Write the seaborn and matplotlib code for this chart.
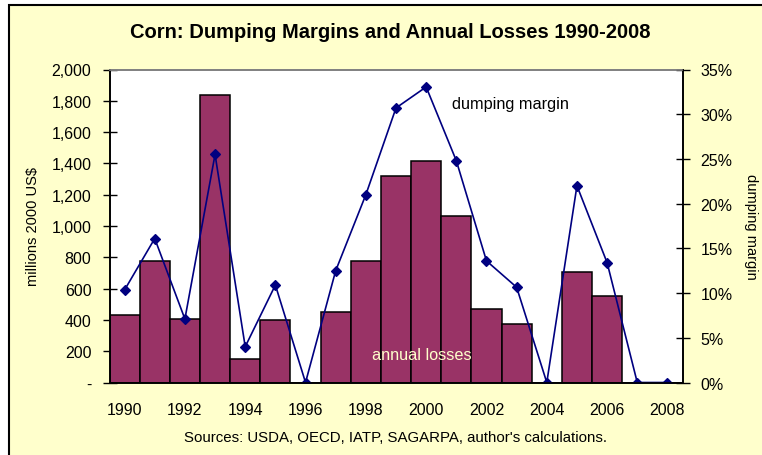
import matplotlib
matplotlib.use("Agg")
import matplotlib.pyplot as plt
import matplotlib.ticker as mticker
from matplotlib.patches import Rectangle
import numpy as np
import pandas as pd
import seaborn as sns

# data
years = [str(y) for y in range(1990, 2009)]
losses = [430, 775, 405, 1840, 150, 400, 0, 450, 775, 1320, 1415, 1065, 470, 375, 0, 705, 550, 0, 0]
margin = [10.35, 16.1, 7.1, 25.5, 4.0, 10.9, 0.0, 12.5, 21.0, 30.7, 33.05, 24.8, 13.6, 10.65, 0.0, 22.0, 13.4, 0.0, 0.0]
year_labels = [y if i % 2 == 0 else "" for i, y in enumerate(years)]

df = pd.DataFrame({"year": years, "losses": losses, "margin": margin})

sns.set_theme(style="white")
plt.rcParams["font.family"] = ["Liberation Sans", "DejaVu Sans"]

W, H = 762, 456
fig = plt.figure(figsize=(W / 100, H / 100), dpi=100, facecolor="white")

# yellow chart area with black frame
fig.patches.append(Rectangle((9 / W, -0.1), 1.2, 1 - 6 / H + 0.1, transform=fig.transFigure,
                             facecolor="#FFFFCC", edgecolor="black", linewidth=1.5, zorder=-5))

x0, x1 = 109.5, 682.5
y_top, y_bot = 70.5, 383.5
ax = fig.add_axes([x0 / W, 1 - y_bot / H, (x1 - x0) / W, (y_bot - y_top) / H])
ax.set_facecolor("white")

sns.barplot(data=df, x="year", y="losses", ax=ax, color="#993366", width=1.0,
            edgecolor="black", linewidth=1.1, saturation=1)
ax.set_xlim(-0.5, len(years) - 0.5)
ax.set_ylim(0, 2000)
ax.set_yticks(np.arange(0, 2001, 200))
ax.yaxis.set_major_formatter(mticker.FuncFormatter(lambda v, p: "-" if v == 0 else f"{int(v):,}"))
ax.set_xticks(range(len(years)))
ax.set_xticklabels(year_labels)
ax.set_xticks(np.arange(-0.5, len(years), 1), minor=True)
ax.tick_params(axis="x", which="major", length=0, pad=14, labelsize=11.5, colors="black")
ax.tick_params(axis="x", which="minor", length=5, width=1, direction="out", color="black")
ax.tick_params(axis="y", length=10, width=1, direction="inout", labelsize=11.5, pad=8, left=True, colors="black")
ax.set_xlabel("")
ax.set_ylabel("millions 2000 US$", fontsize=10.5, color="black", labelpad=8)

ax2 = ax.twinx()
sns.pointplot(data=df, x="year", y="margin", ax=ax2, color="#000080", markers="D",
              markersize=5, linewidth=1.2, errorbar=None)
ax2.set_xlim(-0.5, len(years) - 0.5)
ax2.set_ylim(0, 35)
ax2.set_yticks(np.arange(0, 36, 5))
ax2.yaxis.set_major_formatter(mticker.FuncFormatter(lambda v, p: f"{int(v)}%"))
ax2.tick_params(axis="y", length=10, width=1, direction="inout", labelsize=11.5, pad=8, right=True, colors="black")
ax2.set_ylabel("dumping margin", fontsize=10.5, rotation=270, labelpad=18, color="black")
ax2.set_xlabel("")
ax2.set_xticks(range(len(years)))
ax2.set_xticklabels(year_labels)
ax2.tick_params(axis="x", length=0)

for a in (ax, ax2):
    for s in ("left", "bottom", "right"):
        a.spines[s].set_color("black")
        a.spines[s].set_linewidth(1.2)
    a.spines["top"].set_color("#808080")
    a.spines["top"].set_linewidth(1.2)

ax2.text(0.70, 0.89, "dumping margin", transform=ax.transAxes, ha="center", va="center",
         fontsize=11.7, color="black")
ax2.text(0.545, 0.09, "annual losses", transform=ax.transAxes, ha="center", va="center",
         fontsize=11.7, color="#FFFFCC")

fig.text(390 / W, 1 - 33 / H, "Corn: Dumping Margins and Annual Losses 1990-2008",
         ha="center", va="center", fontsize=14.5, fontweight="bold", color="black")
fig.text(395 / W, 1 - 438 / H, "Sources: USDA, OECD, IATP, SAGARPA, author's calculations.",
         ha="center", va="center", fontsize=10.8, color="black")

fig.savefig("out.png", dpi=100, facecolor=fig.get_facecolor())
